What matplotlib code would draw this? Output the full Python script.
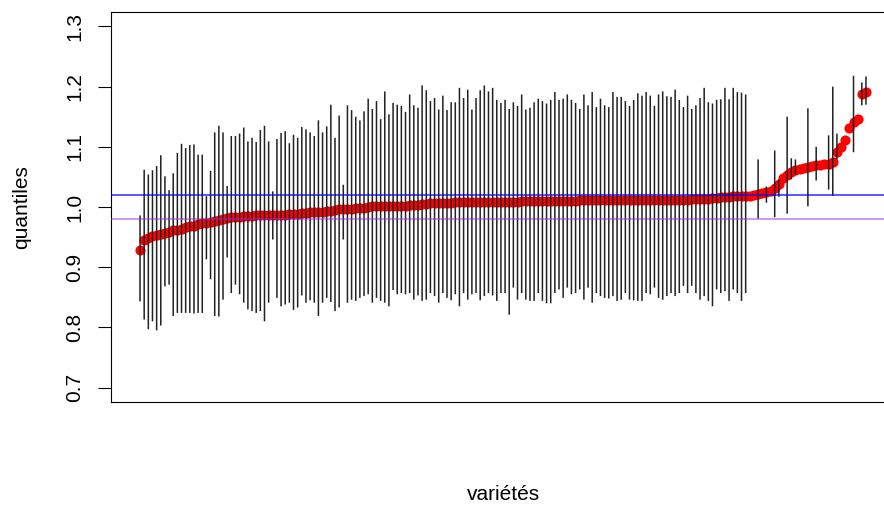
import numpy as np
import matplotlib
matplotlib.use("Agg")
import matplotlib.pyplot as plt

plt.rcParams['font.family'] = ['Liberation Sans', 'DejaVu Sans']

# median quantile per variety (sorted), one per variety
medians = [
    0.929, 0.946, 0.949, 0.952, 0.953, 0.955, 0.957, 0.959, 0.961, 0.962,
    0.964, 0.966, 0.968, 0.969, 0.971, 0.973, 0.974, 0.975, 0.976, 0.978,
    0.980, 0.982, 0.983, 0.983, 0.984, 0.985, 0.985, 0.985, 0.986, 0.986,
    0.986, 0.986, 0.987, 0.987, 0.987, 0.987, 0.988, 0.988, 0.989, 0.990,
    0.990, 0.991, 0.991, 0.992, 0.992, 0.993, 0.994, 0.995, 0.996, 0.996,
    0.997, 0.997, 0.998, 0.999, 0.999, 1.000, 1.001, 1.001, 1.001, 1.002,
    1.002, 1.002, 1.002, 1.002, 1.002, 1.003, 1.003, 1.004, 1.005, 1.005,
    1.006, 1.006, 1.006, 1.006, 1.007, 1.007, 1.008, 1.008, 1.008, 1.008,
    1.008, 1.008, 1.008, 1.008, 1.009, 1.009, 1.009, 1.009, 1.009, 1.009,
    1.009, 1.009, 1.010, 1.010, 1.010, 1.010, 1.010, 1.010, 1.010, 1.010,
    1.010, 1.010, 1.010, 1.010, 1.010, 1.010, 1.011, 1.011, 1.011, 1.011,
    1.011, 1.011, 1.011, 1.011, 1.011, 1.011, 1.011, 1.011, 1.011, 1.011,
    1.011, 1.011, 1.012, 1.012, 1.012, 1.012, 1.012, 1.012, 1.012, 1.012,
    1.012, 1.012, 1.012, 1.013, 1.013, 1.013, 1.014, 1.014, 1.015, 1.015,
    1.016, 1.017, 1.017, 1.018, 1.018, 1.018, 1.019, 1.019, 1.020, 1.021,
    1.023, 1.025, 1.027, 1.031, 1.038, 1.048, 1.054, 1.058, 1.061, 1.063,
    1.065, 1.066, 1.068, 1.069, 1.070, 1.071, 1.072, 1.075, 1.092, 1.099,
    1.112, 1.131, 1.142, 1.147, 1.187, 1.191,
]

# upper / lower quantiles for the first 147 varieties
upper_main = [
    0.986, 1.062, 1.054, 1.061, 1.068, 1.086, 1.051, 1.028, 1.056, 1.090,
    1.105, 1.098, 1.103, 1.104, 1.087, 1.087, 1.018, 1.060, 1.124, 1.135,
    1.124, 1.035, 1.118, 1.118, 1.122, 1.132, 1.109, 1.115, 1.108,
    1.128, 1.135, 1.109, 1.026, 1.113, 1.123, 1.126, 1.106, 1.120, 1.115,
    1.133, 1.129, 1.124, 1.118, 1.144, 1.124, 1.134, 1.170, 1.115, 1.152,
    1.037, 1.169, 1.161, 1.150, 1.144, 1.159, 1.180, 1.163, 1.176, 1.146,
    1.192, 1.154, 1.173, 1.170, 1.168, 1.158, 1.187, 1.169, 1.165, 1.202,
    1.194, 1.176, 1.181, 1.162, 1.185, 1.161, 1.174, 1.174, 1.198, 1.181,
    1.195, 1.162, 1.181, 1.194, 1.202, 1.192, 1.198, 1.178, 1.173,
    1.178, 1.163, 1.174, 1.168, 1.187, 1.162, 1.165, 1.174, 1.180, 1.176,
    1.172, 1.178, 1.191, 1.178, 1.180, 1.187, 1.178, 1.173, 1.163, 1.187,
    1.169, 1.191, 1.166, 1.180, 1.169, 1.166, 1.191, 1.183, 1.183, 1.176,
    1.168, 1.178, 1.189, 1.185, 1.191, 1.185, 1.168, 1.187, 1.192, 1.184,
    1.183, 1.195, 1.178, 1.166, 1.185, 1.163, 1.169, 1.181, 1.198, 1.174,
    1.172, 1.178, 1.179, 1.198, 1.179, 1.198, 1.191, 1.190, 1.187,
]
lower_main = [
    0.843, 0.813, 0.797, 0.810, 0.795, 0.803, 0.868, 0.871, 0.819, 0.824,
    0.824, 0.824, 0.824, 0.823, 0.824, 0.824, 0.913, 0.880, 0.819, 0.818,
    0.846, 0.916, 0.857, 0.871, 0.855, 0.841, 0.830, 0.827, 0.824,
    0.827, 0.810, 0.841, 0.946, 0.849, 0.835, 0.838, 0.841, 0.829, 0.833,
    0.853, 0.841, 0.845, 0.841, 0.819, 0.841, 0.849, 0.842, 0.827, 0.833,
    0.946, 0.841, 0.846, 0.844, 0.849, 0.852, 0.855, 0.841, 0.849, 0.844,
    0.841, 0.835, 0.862, 0.855, 0.857, 0.855, 0.857, 0.846, 0.853, 0.844,
    0.846, 0.857, 0.852, 0.841, 0.857, 0.849, 0.845, 0.855, 0.835, 0.857,
    0.846, 0.855, 0.857, 0.845, 0.852, 0.857, 0.853, 0.844, 0.857,
    0.857, 0.821, 0.866, 0.846, 0.857, 0.846, 0.844, 0.844, 0.857, 0.844,
    0.840, 0.840, 0.857, 0.863, 0.849, 0.866, 0.855, 0.857, 0.863, 0.846,
    0.866, 0.841, 0.857, 0.852, 0.849, 0.848, 0.852, 0.844, 0.846, 0.857,
    0.846, 0.845, 0.844, 0.844, 0.857, 0.855, 0.866, 0.849, 0.846, 0.852,
    0.857, 0.852, 0.857, 0.869, 0.857, 0.869, 0.857, 0.846, 0.852, 0.844,
    0.835, 0.863, 0.857, 0.860, 0.844, 0.863, 0.857, 0.844, 0.857,
]

# the few later varieties that have an interval (1-based index)
extra_idx = [150, 152, 154, 155, 157, 158, 159, 162, 164, 167, 168, 169, 173, 175, 176]
extra_upper = [1.079, 1.034, 1.094, 1.046, 1.150, 1.081, 1.079, 1.164, 1.100,
               1.119, 1.200, 1.122, 1.218, 1.207, 1.217]
extra_lower = [0.981, 1.007, 0.983, 1.017, 0.989, 1.046, 1.054, 1.001, 1.044,
               1.029, 1.019, 1.079, 1.091, 1.169, 1.170]

ref_high = 1.02
ref_low = 0.98
yticks = [0.7, 0.8, 0.9, 1.0, 1.1, 1.2, 1.3]

n = len(medians)
x_all = np.arange(1, n + 1)
x_main = np.arange(1, len(upper_main) + 1)

fig = plt.figure(figsize=(8.84, 5.07), dpi=100)
# plot region is cropped on the right in the reference, so the axes run past the figure edge
ax = fig.add_axes([111 / 884, 1 - 402 / 507, 784 / 884, 390 / 507])

ax.plot(x_all, medians, 'o', color='red', markersize=7.3, markeredgewidth=0, zorder=2)
seg_kw = dict(colors='#222222', lw=1.1, zorder=3, snap=False)
ax.vlines(x_main, lower_main, upper_main, **seg_kw)
ax.vlines(extra_idx, extra_lower, extra_upper, **seg_kw)
ax.axhline(ref_high, color='blue', alpha=0.7, lw=1.3, zorder=4)
ax.axhline(ref_low, color='#A020F0', alpha=0.5, lw=1.3, zorder=4)

ax.set_xlim(1 - 0.04 * (n - 1), n + 0.04 * (n - 1))
ax.set_ylim(0.7 - 0.024, 1.3 + 0.024)
ax.set_xticks([])
ax.set_yticks(yticks)
ax.set_yticklabels([f"{t:.1f}" for t in yticks], rotation=90, va='center', fontsize=15)
ax.tick_params(axis='y', length=9.5, width=0.8, pad=9.5)
for s in ax.spines.values():
    s.set_linewidth(0.8)

fig.text(503 / 884, 1 - 495 / 507, "variétés", ha='center', va='center', fontsize=15)
fig.text(22 / 884, 1 - 207 / 507, "quantiles", ha='center', va='center', rotation=90, fontsize=15)

fig.savefig("out.png", dpi=100)
